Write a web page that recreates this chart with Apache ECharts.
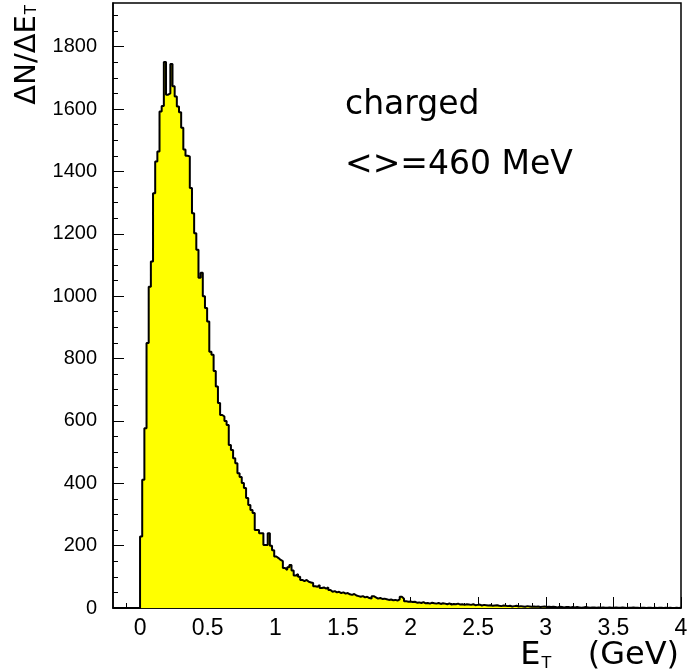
<!DOCTYPE html>
<html>
<head>
<meta charset="utf-8">
<script src="https://cdn.jsdelivr.net/npm/echarts@6/dist/echarts.min.js"></script>
<style>
  html, body { margin: 0; padding: 0; background: #fff; }
  #chart { width: 696px; height: 671px; }
</style>
</head>
<body>
<div id="chart"></div>
<script>
// Transverse-energy spectrum of charged particles, binned histogram
const binWidth = 0.016;   // GeV
const binStart = 0;       // GeV, left edge of first bin

const counts = [
  229, 411, 576, 850, 1030, 1111, 1330, 1432, 1464, 1592,
  1610, 1751, 1646, 1650, 1744, 1673, 1640, 1608, 1590, 1540,
  1470, 1450, 1448, 1347, 1266, 1202, 1149, 1059, 1075, 1000,
  962, 919, 822, 812, 760, 710, 657, 619, 614, 600,
  587, 523, 507, 480, 464, 432, 420, 401, 385, 353,
  330, 314, 305, 250, 250, 240, 240, 202, 202, 240,
  200, 185, 165, 160, 154, 150, 128, 122, 131, 138,
  120, 104, 109, 100, 90, 86, 90, 84, 82, 80,
  70, 68, 74, 64, 66, 62, 66, 58, 52, 54,
  50, 52, 48, 50, 46, 48, 44, 42, 45, 40,
  38, 36, 38, 34, 36, 32, 30, 38, 34, 30,
  32, 29, 30, 28, 26, 27, 25, 26, 24, 28,
  36, 30, 22, 20, 21, 19, 20, 17, 18, 16,
  19, 15, 16, 14, 17, 15, 14, 16, 13, 15,
  14, 12, 15, 11, 13, 12, 14, 11, 12, 10,
  12, 11, 10, 12, 9, 10, 11, 8, 10, 9,
  8, 9, 7, 8, 9, 7, 6, 8, 7, 6,
  7, 5, 6, 7, 5, 6, 5, 4, 6, 5,
  4, 5, 4, 5, 3, 4, 5, 3, 4, 3,
  4, 3, 2, 4, 3, 2, 3, 3, 2, 3,
  2, 3, 2, 1, 2, 3, 2, 1, 2, 2,
  1, 2, 1, 2, 1, 1, 2, 1, 1, 2,
  1, 1, 2, 1, 0, 1, 1, 2, 1, 1,
  0, 1, 1, 0, 1, 1, 0, 1, 0, 1,
  1, 0, 1, 0, 1, 0, 0, 1, 0, 1
];

const xRange = [-0.2, 4];
const yRange = [0, 1940];

const xMajorTicks = [0, 0.5, 1, 1.5, 2, 2.5, 3, 3.5, 4];
const xMinorTicks = [-0.1, 0.1, 0.2, 0.3, 0.4, 0.6, 0.7, 0.8, 0.9, 1.1, 1.2, 1.3, 1.4,
  1.6, 1.7, 1.8, 1.9, 2.1, 2.2, 2.3, 2.4, 2.6, 2.7, 2.8, 2.9,
  3.1, 3.2, 3.3, 3.4, 3.6, 3.7, 3.8, 3.9];
const yMajorTicks = [0, 200, 400, 600, 800, 1000, 1200, 1400, 1600, 1800];
const yMinorTicks = [50, 100, 150, 250, 300, 350, 450, 500, 550, 650, 700, 750,
  850, 900, 950, 1050, 1100, 1150, 1250, 1300, 1350, 1450, 1500, 1550,
  1650, 1700, 1750, 1850, 1900];

const annotation = ['charged', '<>=460 MeV'];

// step outline: start on the axis, one point per bin left edge, close at the last edge
const points = [[xRange[0], 0]];
counts.forEach((c, i) => points.push([binStart + i * binWidth, c]));
points.push([binStart + counts.length * binWidth, 0]);

const labelFont = 'Liberation Sans, Arial, Helvetica, sans-serif';
const narrowFont = '"Liberation Sans Narrow", "Liberation Sans", Arial, sans-serif';
const textFont = '"DejaVu Sans", sans-serif';

const chart = echarts.init(document.getElementById('chart'), null, { renderer: 'canvas' });

const tickStyle = { color: '#000', width: 1 };

chart.setOption({
  animation: false,
  backgroundColor: '#fff',
  grid: {
    left: 113, right: 15, top: 3, bottom: 63,
    show: true, borderColor: '#000', borderWidth: 1.5, backgroundColor: 'transparent'
  },
  xAxis: [
    {
      type: 'value', min: xRange[0], max: xRange[1], position: 'bottom',
      axisLine: { show: true, onZero: false, lineStyle: { color: '#000', width: 1.5 } },
      axisTick: { show: true, inside: true, length: 11, customValues: xMajorTicks, lineStyle: tickStyle },
      axisLabel: {
        customValues: xMajorTicks, fontSize: 23, color: '#000', margin: 9,
        fontFamily: labelFont, formatter: v => String(v)
      },
      splitLine: { show: false }
    },
    {
      type: 'value', min: xRange[0], max: xRange[1], position: 'bottom',
      axisLine: { show: false, onZero: false },
      axisTick: { show: true, inside: true, length: 5, customValues: xMinorTicks, lineStyle: tickStyle },
      axisLabel: { show: false },
      splitLine: { show: false }
    }
  ],
  yAxis: [
    {
      type: 'value', min: yRange[0], max: yRange[1], position: 'left',
      axisLine: { show: true, onZero: false, lineStyle: { color: '#000', width: 1.5 } },
      axisTick: { show: true, inside: true, length: 11, customValues: yMajorTicks, lineStyle: tickStyle },
      axisLabel: {
        customValues: yMajorTicks, fontSize: 20, color: '#000', margin: 16,
        fontFamily: narrowFont, formatter: v => String(v)
      },
      splitLine: { show: false }
    },
    {
      type: 'value', min: yRange[0], max: yRange[1], position: 'left',
      axisLine: { show: false, onZero: false },
      axisTick: { show: true, inside: true, length: 5, customValues: yMinorTicks, lineStyle: tickStyle },
      axisLabel: { show: false },
      splitLine: { show: false }
    }
  ],
  series: [
    {
      type: 'line',
      xAxisIndex: 0, yAxisIndex: 0,
      data: points,
      step: 'end',
      symbol: 'none',
      lineStyle: { color: '#000', width: 2 },
      areaStyle: { color: '#ffff00', opacity: 1, origin: 'start' },
      silent: true,
      z: 1
    }
  ],
  graphic: [
    {
      type: 'text', x: 345, y: 105,
      style: { text: annotation[0], font: '33px ' + textFont, fill: '#000', textVerticalAlign: 'middle' }
    },
    {
      type: 'text', x: 345, y: 165,
      style: { text: annotation[1], font: '33px ' + textFont, fill: '#000', textVerticalAlign: 'middle' }
    },
    {
      // vertical axis title, reading upward
      type: 'text', x: 27, y: 5, rotation: Math.PI / 2,
      style: {
        text: '{m|ΔN/ΔE}{s|T}',
        align: 'right', verticalAlign: 'middle',
        rich: {
          m: { font: '29px ' + textFont, fill: '#000' },
          s: { font: '15px ' + textFont, fill: '#000', padding: [11, 0, 0, 1] }
        }
      }
    },
    {
      type: 'text', x: 679, y: 656,
      style: {
        text: '{m|E}{s|T}{m|  (GeV)}',
        align: 'right', verticalAlign: 'middle',
        rich: {
          m: { font: '32px ' + textFont, fill: '#000' },
          s: { font: '16px ' + textFont, fill: '#000', padding: [15, 16, 0, 1] }
        }
      }
    }
  ]
});
</script>
</body>
</html>
